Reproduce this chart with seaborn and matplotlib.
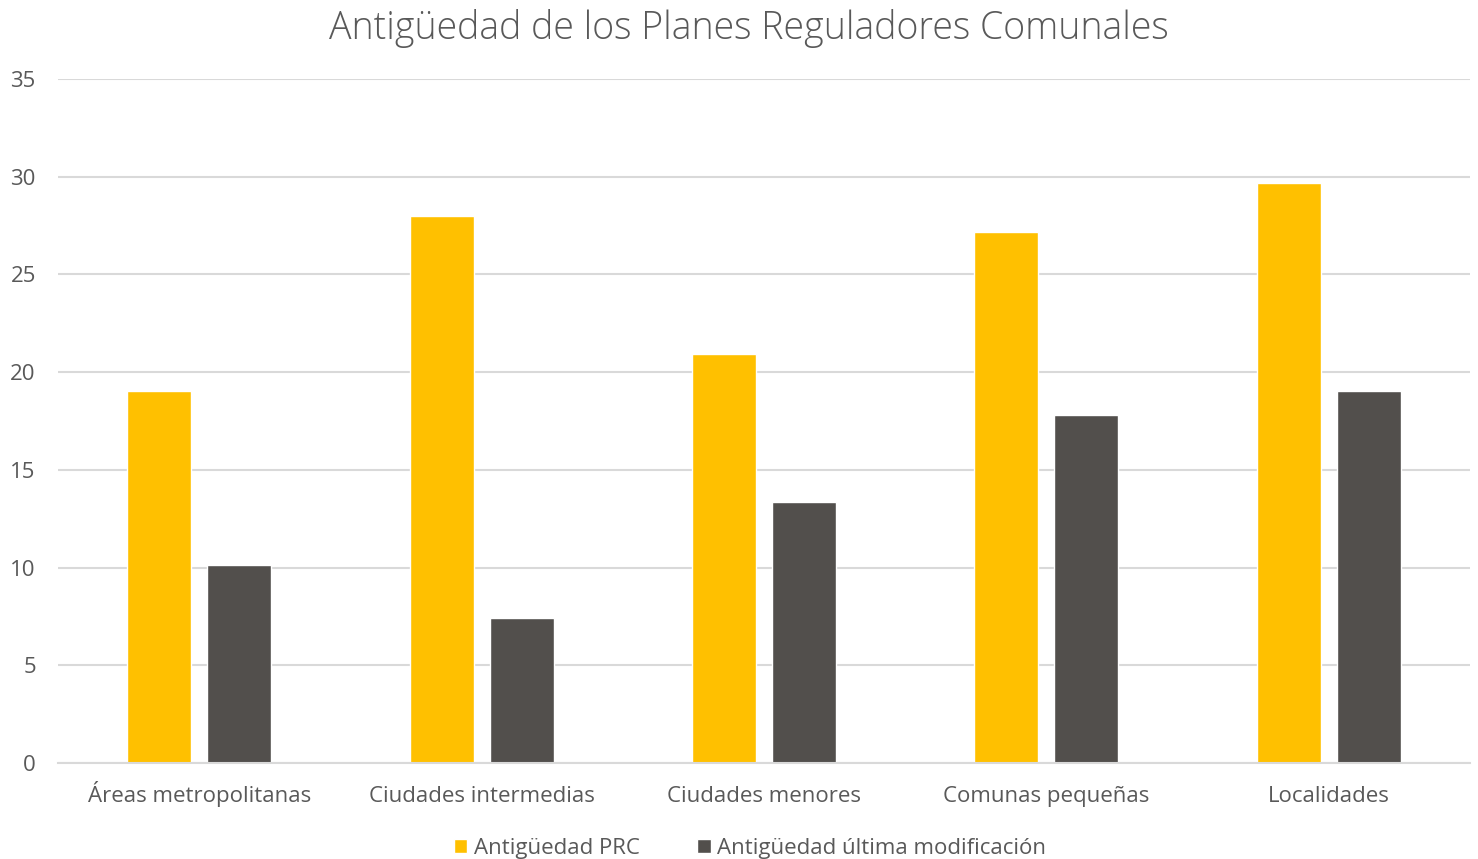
import pandas as pd
import seaborn as sns
import matplotlib.pyplot as plt

categorias = ['Áreas metropolitanas', 'Ciudades intermedias', 'Ciudades menores',
              'Comunas pequeñas', 'Localidades']
antig_prc = [19.05, 28.0, 20.95, 27.15, 29.7]
antig_mod = [10.15, 7.4, 13.35, 17.8, 19.05]
series = ['Antigüedad PRC', 'Antigüedad última modificación']

df = pd.DataFrame({
    'categoria': categorias * 2,
    'serie': [series[0]] * 5 + [series[1]] * 5,
    'valor': antig_prc + antig_mod,
})

sns.set_theme(style='white')
plt.rcParams['font.family'] = ['Open Sans', 'DejaVu Sans']
gris = '#595959'

fig = plt.figure(figsize=(14.78, 8.59), dpi=100)
ax = fig.add_axes([58/1478, 96/859, 1412/1478, 684/859])

sns.barplot(data=df, x='categoria', y='valor', hue='serie',
            palette=['#FFC000', '#524F4C'], width=0.567, gap=0.2,
            saturation=1, ax=ax, legend=True)

ax.set_ylim(0, 35)
ax.set_xlim(-0.5, 4.5)
ax.set_yticks(range(0, 36, 5))
ax.yaxis.grid(True, color='#D9D9D9', linewidth=1.5)
ax.set_axisbelow(True)
for s in ['top', 'right', 'left']:
    ax.spines[s].set_visible(False)
ax.spines['bottom'].set_color('#D9D9D9')
ax.spines['bottom'].set_linewidth(1.5)
ax.tick_params(axis='both', length=0, labelsize=16, labelcolor=gris)
ax.tick_params(axis='y', pad=16)
ax.tick_params(axis='x', pad=28)
for lbl in ax.get_xticklabels():
    lbl.set_va('baseline')
ax.set_xlabel('')
ax.set_ylabel('')

fig.suptitle('Antigüedad de los Planes Reguladores Comunales', x=0.507, y=0.99,
             fontsize=27, color=gris, fontweight='light')

handles, labels = ax.get_legend_handles_labels()
ax.legend(handles, labels, loc='upper center', bbox_to_anchor=(0.49, -0.08),
          ncol=2, frameon=False, fontsize=16, labelcolor=gris,
          handlelength=0.6, handleheight=0.6, handletextpad=0.3, columnspacing=2.6)

fig.savefig('out.png', dpi=100)
